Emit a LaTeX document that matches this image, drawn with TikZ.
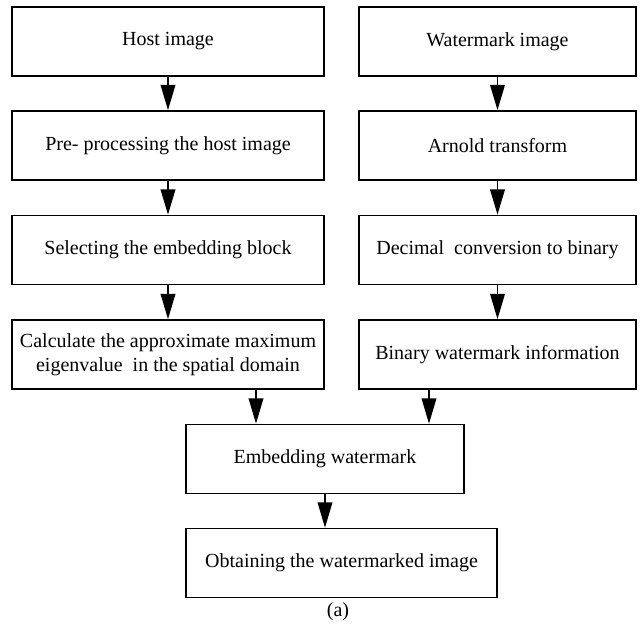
\documentclass[tikz,border=0pt]{standalone}
\usepackage{fontspec}
\setmainfont{Liberation Serif}
\usetikzlibrary{arrows.meta}

\begin{document}
\begin{tikzpicture}[x=0.75pt, y=-0.75pt, line width=1.3pt,
    every node/.style={font=\fontsize{15}{18}\selectfont},
    stage/.style={draw, align=center, minimum height=51.75pt, inner sep=0pt},
    leftstage/.style={stage, minimum width=234pt},
    rightstage/.style={stage, minimum width=207.75pt},
    flow/.style={-{Triangle[length=19pt, width=11pt]}}]

    \useasboundingbox (0,0) rectangle (644,629);

    % Host image branch
    \node[leftstage] (host) at (168,41.5) {Host image};
    \node[leftstage] (pre) at (168,145.5) {Pre- processing the host image};
    \node[leftstage] (select) at (168,250) {Selecting the embedding block};
    \node[leftstage] (eigen) at (168,354.5) {Calculate the approximate maximum\\eigenvalue~ in the spatial domain};

    % Watermark branch
    \node[rightstage] (wm) at (497.5,41.5) {Watermark image};
    \node[rightstage] (arnold) at (497.5,145.5) {Arnold transform};
    \node[rightstage] (decbin) at (497.5,250) {Decimal~ conversion to binary};
    \node[rightstage] (wminfo) at (497.5,354.5) {Binary watermark information};

    % Embedding and result
    \node[stage, minimum width=208.5pt] (embed) at (325,459) {Embedding watermark};
    \node[stage, minimum width=233.25pt] (result) at (341.5,563) {Obtaining the watermarked image};
    \node (caption) at (338,612) {(a)};

    \coordinate (inL) at ([xshift=-51.75pt]embed.north);
    \coordinate (inR) at ([xshift=78pt]embed.north);

    % Arrows
    \foreach \a/\b in {host/pre, pre/select, select/eigen, wm/arnold, arnold/decbin, decbin/wminfo}
      \draw[flow] (\a) -- (\b);
    \draw[flow] (eigen.south -| inL) -- (inL);
    \draw[flow] (wminfo.south -| inR) -- (inR);
    \draw[flow] (embed.south -| embed.north) -- (result.north -| embed.north);

\end{tikzpicture}
\end{document}
